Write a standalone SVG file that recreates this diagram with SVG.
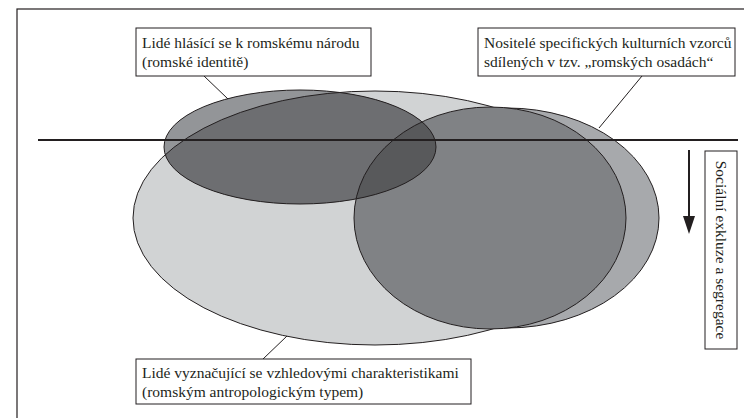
<svg xmlns="http://www.w3.org/2000/svg" width="744" height="418" viewBox="0 0 744 418">
  <style>
    .ln { fill: none; stroke: #231f20; stroke-width: 1; }
    .box { fill: #ffffff; stroke: #231f20; stroke-width: 1; }
    .lbl { font-family: "Liberation Serif", "DejaVu Serif", serif; font-size: 15.5px; fill: #231f20; }
  </style>
  <defs>
    <ellipse id="e-look" cx="375" cy="218" rx="242" ry="127"/>
    <ellipse id="e-culture" cx="507" cy="218" rx="152" ry="110"/>
    <ellipse id="e-core" cx="490" cy="218" rx="136" ry="111"/>
    <ellipse id="e-identity" cx="300" cy="147" rx="136" ry="57"/>
    <clipPath id="clip-look"><use href="#e-look"/></clipPath>
    <clipPath id="clip-core"><use href="#e-core"/></clipPath>
    <clipPath id="clip-identity"><use href="#e-identity"/></clipPath>
  </defs>

  <rect width="744" height="418" fill="#ffffff"/>
  <!-- outer frame, open to the right and bottom -->
  <rect x="17" y="9" width="760" height="440" fill="none" stroke="#231f20" stroke-width="1.2"/>

  <g id="set-appearance">
    <use href="#e-look" fill="#d1d3d4" stroke="#231f20" stroke-width="1"/>
  </g>
  <g id="set-culture">
    <use href="#e-culture" fill="#a7a9ac" stroke="#231f20" stroke-width="1"/>
  </g>
  <g id="set-core">
    <use href="#e-core" fill="#808285" stroke="#231f20" stroke-width="1"/>
  </g>
  <g id="set-identity">
    <use href="#e-identity" fill="#939598"/>
    <use href="#e-identity" fill="#6d6e71" clip-path="url(#clip-look)"/>
    <use href="#e-identity" fill="#58595b" clip-path="url(#clip-core)"/>
    <!-- outlines seen through the identity ellipse -->
    <use href="#e-look" class="ln" clip-path="url(#clip-identity)"/>
    <use href="#e-core" class="ln" clip-path="url(#clip-identity)"/>
    <use href="#e-identity" class="ln"/>
  </g>

  <g id="connectors">
    <line x1="38" y1="140" x2="738" y2="140" stroke="#231f20" stroke-width="2"/>
    <line x1="204" y1="76" x2="228" y2="99" class="ln"/>
    <line x1="642" y1="76" x2="599" y2="128" class="ln"/>
    <line x1="263" y1="359" x2="287" y2="336" class="ln"/>
    <line x1="689" y1="150" x2="689" y2="218" stroke="#231f20" stroke-width="2"/>
    <polygon points="683,216 695,216 689,234" fill="#231f20"/>
  </g>

  <g id="label-identity">
    <rect x="136" y="28" width="235" height="48" class="box"/>
    <text class="lbl" x="142" y="48">Lidé hlásící se k romskému národu</text>
    <text class="lbl" x="142" y="67">(romské identitě)</text>
  </g>
  <g id="label-culture">
    <rect x="478" y="28" width="257" height="48" class="box"/>
    <text class="lbl" x="484" y="48">Nositelé specifických kulturních vzorců</text>
    <text class="lbl" x="484" y="67">sdílených v tzv. „romských osadách“</text>
  </g>
  <g id="label-appearance">
    <rect x="136" y="359" width="335" height="45" class="box"/>
    <text class="lbl" x="142" y="378">Lidé vyznačující se vzhledovými charakteristikami</text>
    <text class="lbl" x="142" y="397">(romským antropologickým typem)</text>
  </g>
  <g id="label-exclusion">
    <rect x="705" y="151" width="32" height="198" class="box"/>
    <text class="lbl" x="716" y="250" text-anchor="middle" transform="rotate(90 716 250)">Sociální exkluze a segregace</text>
  </g>
</svg>
